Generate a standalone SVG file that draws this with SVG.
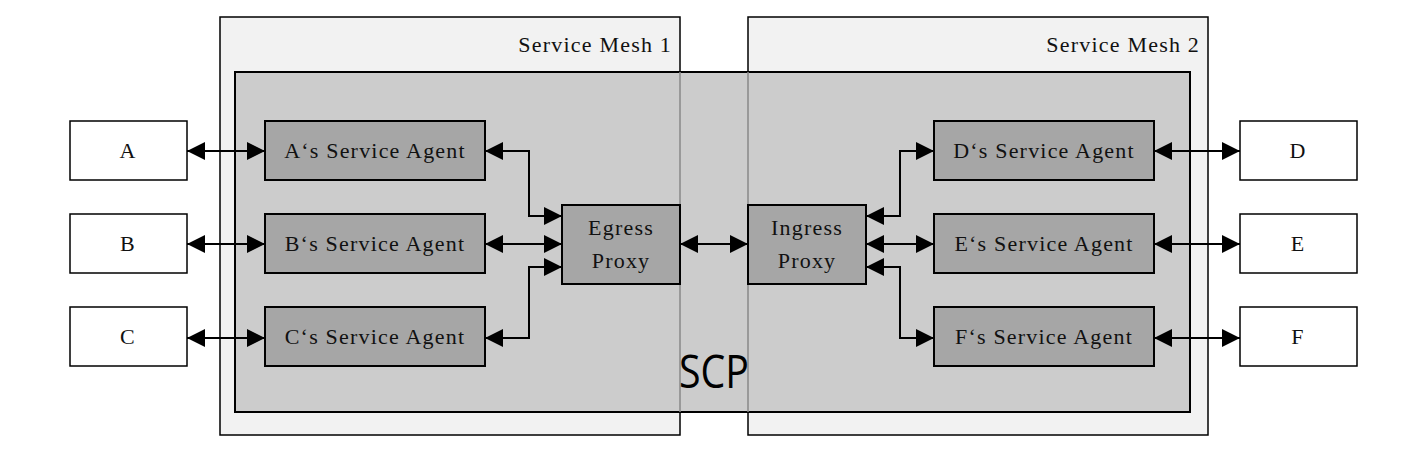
<svg xmlns="http://www.w3.org/2000/svg" width="1421" height="450" viewBox="0 0 1421 450">
<style>
.t{font-family:"Liberation Serif",serif;font-size:22px;letter-spacing:1.2px;fill:#111;text-anchor:middle}
.r{text-anchor:end}
.ln{fill:none;stroke:#000;stroke-width:2}
.ag{fill:#a6a6a6;stroke:#000;stroke-width:2}
.ex{fill:#fff;stroke:#000;stroke-width:1.5}
</style>
<defs><marker id="ar" viewBox="0 0 10 10" refX="10" refY="5" markerWidth="18" markerHeight="18" markerUnits="userSpaceOnUse" orient="auto-start-reverse"><path d="M0,0L10,5L0,10z"/></marker></defs>
<rect width="1421" height="450" fill="#fff"/>
<g id="mesh1"><rect x="220" y="17" width="460" height="418" fill="#f2f2f2" stroke="#000" stroke-width="1.5"/><text class="t r" x="672" y="52">Service Mesh 1</text></g>
<g id="mesh2"><rect x="748" y="17" width="460" height="418" fill="#f2f2f2" stroke="#000" stroke-width="1.5"/><text class="t r" x="1200" y="52">Service Mesh 2</text></g>
<g id="scp"><rect x="235" y="72" width="955" height="340" fill="#cccccc" stroke="#000" stroke-width="2"/>
<line x1="680" y1="72" x2="680" y2="412" stroke="#888" stroke-width="1.5"/><line x1="748" y1="72" x2="748" y2="412" stroke="#888" stroke-width="1.5"/>
<text x="714" y="388" font-family="Open Sans,DejaVu Sans,sans-serif" font-size="46" text-anchor="middle" fill="#000" textLength="70" lengthAdjust="spacingAndGlyphs">SCP</text></g>
<g id="A"><rect class="ex" x="70" y="121" width="117" height="59"/><text class="t" x="128" y="158">A</text></g>
<g id="B"><rect class="ex" x="70" y="214" width="117" height="59"/><text class="t" x="128" y="251">B</text></g>
<g id="C"><rect class="ex" x="70" y="307" width="117" height="59"/><text class="t" x="128" y="344">C</text></g>
<g id="D"><rect class="ex" x="1240" y="121" width="117" height="59"/><text class="t" x="1298" y="158">D</text></g>
<g id="E"><rect class="ex" x="1240" y="214" width="117" height="59"/><text class="t" x="1298" y="251">E</text></g>
<g id="F"><rect class="ex" x="1240" y="307" width="117" height="59"/><text class="t" x="1298" y="344">F</text></g>
<g id="Aagent"><rect class="ag" x="265" y="121" width="220" height="59"/><text class="t" x="375" y="158">A‘s Service Agent</text></g>
<g id="Bagent"><rect class="ag" x="265" y="214" width="220" height="59"/><text class="t" x="375" y="251">B‘s Service Agent</text></g>
<g id="Cagent"><rect class="ag" x="265" y="307" width="220" height="59"/><text class="t" x="375" y="344">C‘s Service Agent</text></g>
<g id="Dagent"><rect class="ag" x="934" y="121" width="220" height="59"/><text class="t" x="1044" y="158">D‘s Service Agent</text></g>
<g id="Eagent"><rect class="ag" x="934" y="214" width="220" height="59"/><text class="t" x="1044" y="251">E‘s Service Agent</text></g>
<g id="Fagent"><rect class="ag" x="934" y="307" width="220" height="59"/><text class="t" x="1044" y="344">F‘s Service Agent</text></g>
<g id="egress"><rect class="ag" x="562" y="205" width="118" height="79"/><text class="t" x="621" y="235">Egress</text><text class="t" x="621" y="268">Proxy</text></g>
<g id="ingress"><rect class="ag" x="748" y="205" width="118" height="79"/><text class="t" x="807" y="235">Ingress</text><text class="t" x="807" y="268">Proxy</text></g>
<g id="connectors">
<path class="ln" d="M187,151H265" marker-start="url(#ar)" marker-end="url(#ar)"/>
<path class="ln" d="M187,244H265" marker-start="url(#ar)" marker-end="url(#ar)"/>
<path class="ln" d="M187,338H265" marker-start="url(#ar)" marker-end="url(#ar)"/>
<path class="ln" d="M1154,151H1240" marker-start="url(#ar)" marker-end="url(#ar)"/>
<path class="ln" d="M1154,244H1240" marker-start="url(#ar)" marker-end="url(#ar)"/>
<path class="ln" d="M1154,338H1240" marker-start="url(#ar)" marker-end="url(#ar)"/>
<path class="ln" d="M485,151H529V216H562" marker-start="url(#ar)" marker-end="url(#ar)"/>
<path class="ln" d="M485,244H562" marker-start="url(#ar)" marker-end="url(#ar)"/>
<path class="ln" d="M485,338H529V267H562" marker-start="url(#ar)" marker-end="url(#ar)"/>
<path class="ln" d="M680,244H748" marker-start="url(#ar)" marker-end="url(#ar)"/>
<path class="ln" d="M866,216H900V151H934" marker-start="url(#ar)" marker-end="url(#ar)"/>
<path class="ln" d="M866,244H934" marker-start="url(#ar)" marker-end="url(#ar)"/>
<path class="ln" d="M866,267H900V338H934" marker-start="url(#ar)" marker-end="url(#ar)"/>
</g>
</svg>
